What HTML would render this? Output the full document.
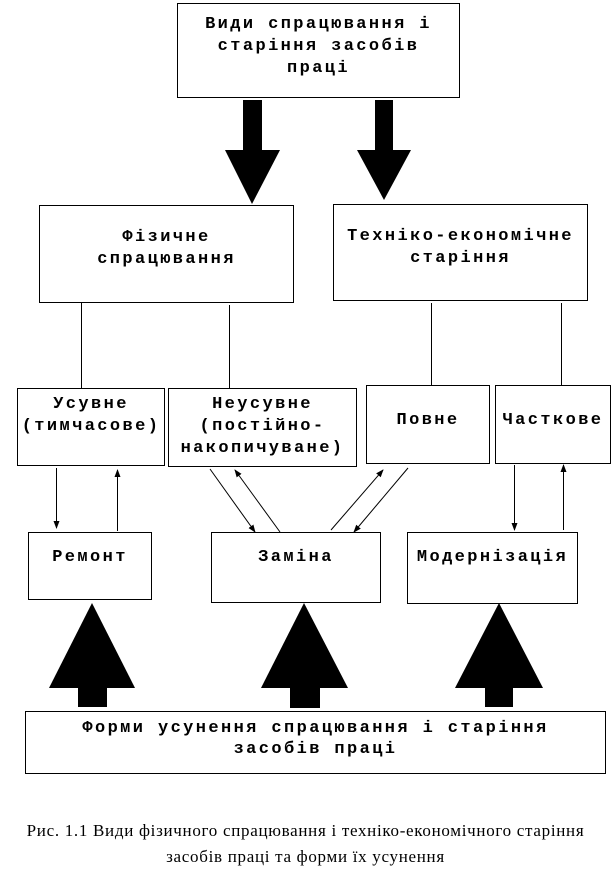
<!DOCTYPE html>
<html><head><meta charset="utf-8"><style>
body{margin:0;width:611px;height:888px;background:#fff;position:relative;overflow:hidden}
.b{position:absolute;border:1px solid #000;box-sizing:border-box;font-family:"Liberation Mono",monospace;font-weight:bold;font-size:17px;letter-spacing:2.4px;line-height:22px;text-align:center;background:#fff;white-space:nowrap}
.cap{position:absolute;left:0;width:611px;text-align:center;font-family:"Liberation Serif",serif;font-size:17px;letter-spacing:0.7px;line-height:26px;white-space:nowrap}
svg{position:absolute;left:0;top:0}
</style></head><body>
<svg width="611" height="888">
<defs><marker id="a" markerWidth="8" markerHeight="8" refX="7" refY="4" orient="auto" markerUnits="userSpaceOnUse"><path d="M0,1 L8,4 L0,7z" fill="#000"/></marker></defs>
<g fill="#000">
<rect x="243" y="100" width="19" height="52"/><path d="M225,150 L280,150 L252,204z"/>
<rect x="375" y="100" width="18" height="52"/><path d="M357,150 L411,150 L384,200z"/>
<path d="M49,688 L135,688 L92,603z"/><rect x="78" y="686" width="29" height="21"/>
<path d="M261,688 L348,688 L304,603z"/><rect x="290" y="686" width="30" height="22"/>
<path d="M455,688 L543,688 L499,603z"/><rect x="485" y="686" width="28" height="21"/>
</g>
<g stroke="#000" stroke-width="1">
<line x1="81.5" y1="302" x2="81.5" y2="388"/>
<line x1="229.5" y1="305" x2="229.5" y2="388"/>
<line x1="431.5" y1="303" x2="431.5" y2="385"/>
<line x1="561.5" y1="303" x2="561.5" y2="385"/>
<line x1="56.5" y1="468" x2="56.5" y2="528" marker-end="url(#a)"/>
<line x1="117.5" y1="531" x2="117.5" y2="470" marker-end="url(#a)"/>
<line x1="210" y1="469" x2="255" y2="532" marker-end="url(#a)"/>
<line x1="280" y1="532" x2="235" y2="470" marker-end="url(#a)"/>
<line x1="331" y1="530" x2="383" y2="470" marker-end="url(#a)"/>
<line x1="408" y1="468" x2="354" y2="532" marker-end="url(#a)"/>
<line x1="514.5" y1="465" x2="514.5" y2="530" marker-end="url(#a)"/>
<line x1="563.5" y1="530" x2="563.5" y2="465" marker-end="url(#a)"/>
</g>
</svg>
<div class="b" style="left:177px;top:3px;width:283px;height:95px;padding-top:10px">Види спрацювання і<br>старіння засобів<br>праці</div>
<div class="b" style="left:39px;top:205px;width:255px;height:98px;padding-top:21px">Фізичне<br>спрацювання</div>
<div class="b" style="left:333px;top:204px;width:255px;height:97px;padding-top:21px">Техніко-економічне<br>старіння</div>
<div class="b" style="left:17px;top:388px;width:148px;height:78px;padding-top:5px">Усувне<br>(тимчасове)</div>
<div class="b" style="left:168px;top:388px;width:189px;height:79px;padding-top:5px">Неусувне<br>(постійно-<br>накопичуване)</div>
<div class="b" style="left:366px;top:385px;width:124px;height:79px;padding-top:24px">Повне</div>
<div class="b" style="left:495px;top:385px;width:116px;height:79px;padding-top:24px">Часткове</div>
<div class="b" style="left:28px;top:532px;width:124px;height:68px;padding-top:14px">Ремонт</div>
<div class="b" style="left:211px;top:532px;width:170px;height:71px;padding-top:14px">Заміна</div>
<div class="b" style="left:407px;top:532px;width:171px;height:72px;padding-top:14px">Модернізація</div>
<div class="b" style="left:25px;top:711px;width:581px;height:63px;padding-top:6px;line-height:21px">Форми усунення спрацювання і старіння<br>засобів праці</div>
<div class="cap" style="top:818px">Рис. 1.1 Види фізичного спрацювання і техніко-економічного старіння<br>засобів праці та форми їх усунення</div>
</body></html>
